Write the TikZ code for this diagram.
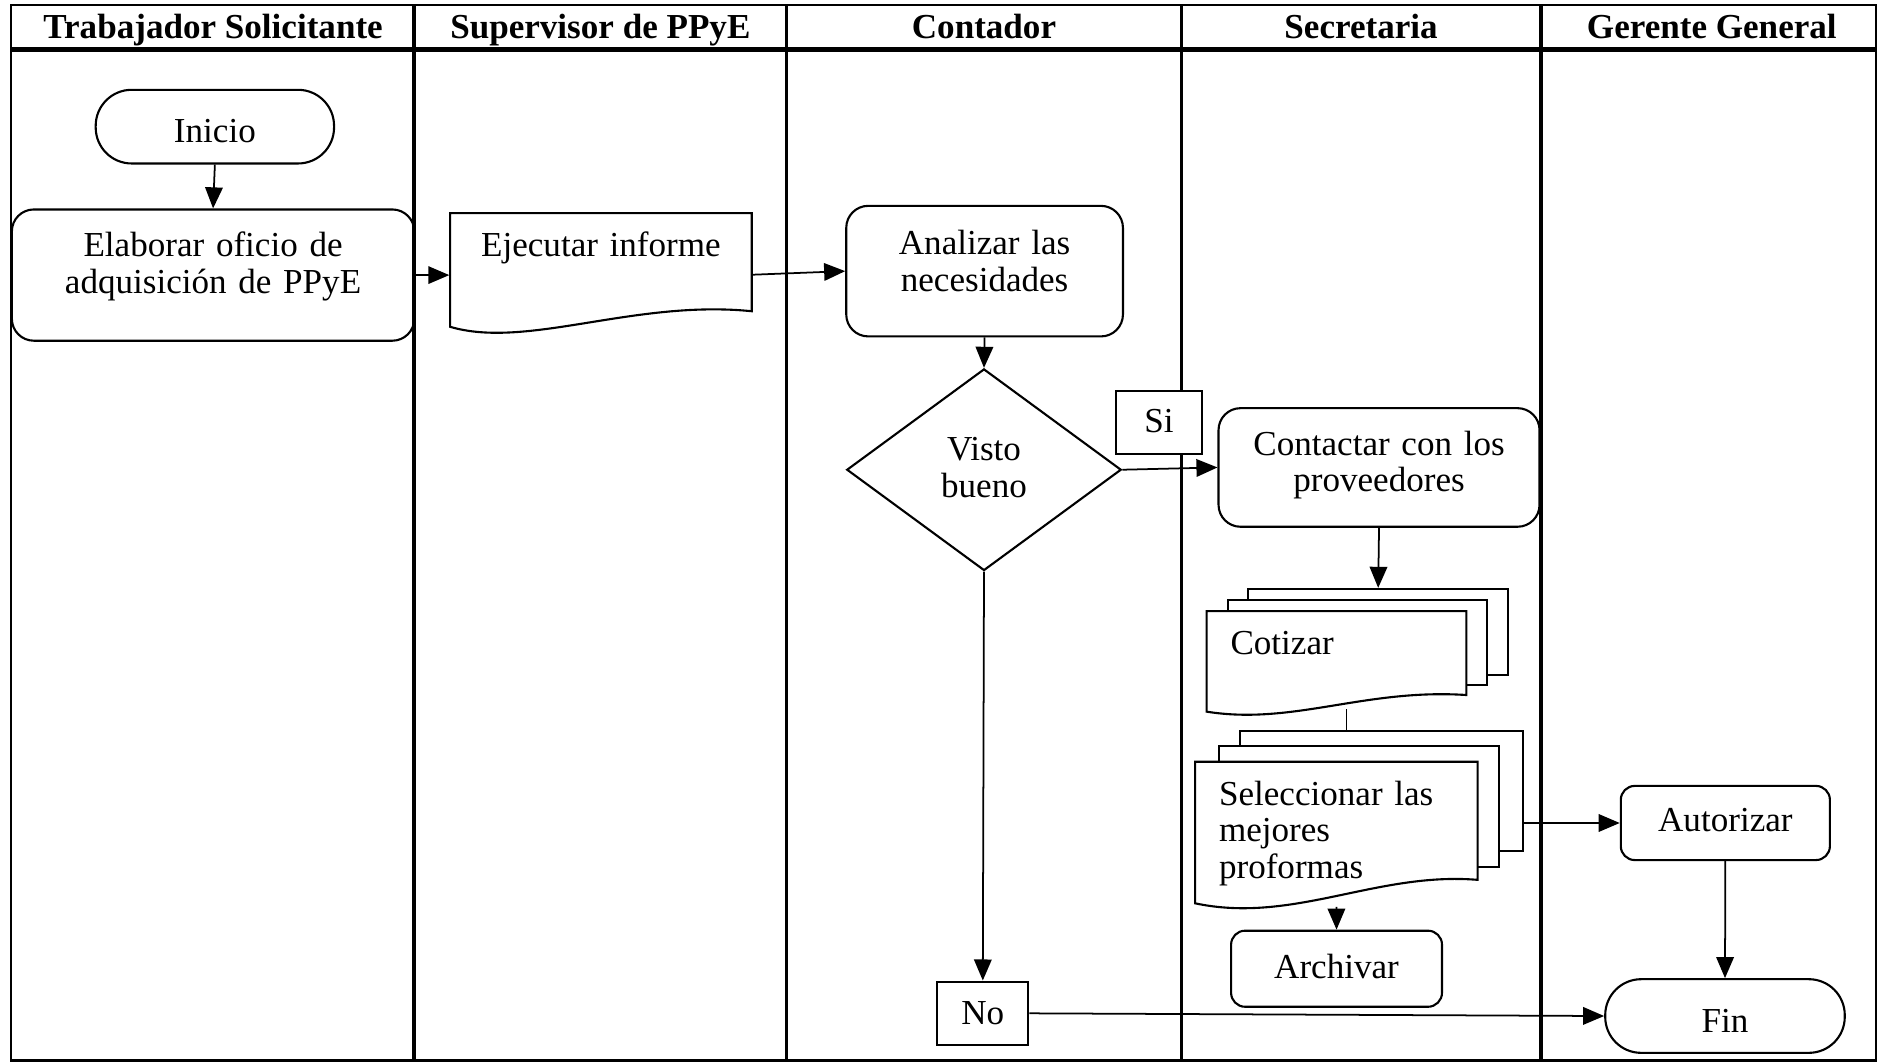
\documentclass[tikz,border=0pt]{standalone}
\usepackage{fontspec}
\setmainfont{Liberation Serif}
\usetikzlibrary{arrows.meta,shapes.geometric}

\begin{document}
\begin{tikzpicture}[x=0.012cm,y=-0.012cm,
        font=\fontsize{10}{10.4}\selectfont,
        lane/.style={line width=1.1pt},
        head/.style={font=\fontsize{10}{10.4}\selectfont\bfseries,anchor=base},
        box/.style={draw,line width=0.6pt,rounded corners=0.22cm,align=center,inner sep=0pt},
        smallbox/.style={box,rounded corners=0.14cm,text depth=1.5pt},
        term/.style={draw,line width=0.6pt,rounded corners=0.36cm,inner sep=0pt,text height=9.2pt,text depth=0pt},
        tag/.style={draw,line width=0.6pt,fill=white,inner sep=0pt},
        sheet/.style={draw,line width=0.6pt,fill=white,inner sep=0pt},
        doc/.style={line width=0.6pt,draw,fill=white},
        doctext/.style={inner xsep=0.24cm,inner ysep=0pt,align=left},
        flow/.style={line width=0.5pt,-{Triangle[length=6pt,width=5pt]}}]
    \useasboundingbox (0,0) rectangle (1568,887);
    % lanes
    \draw[line width=0.7pt] (9,4) rectangle (1567,886);
    \draw[line width=1.4pt] (9,41) -- (1567,41);
    \foreach \x in {346,657,987,1287}
        \draw[lane] (\x,4) -- (\x,886);
    \node[head] (trab) at (178,32) {Trabajador Solicitante};
    \node[head] (superv) at (501.5,32) {Supervisor de PPyE};
    \node[head] (contad) at (822,32) {Contador};
    \node[head] (secret) at (1137,32) {Secretaria};
    \node[head] (gerente) at (1430,32) {Gerente General};

    % Trabajador Solicitante
    \node[term,minimum width=2.388cm,minimum height=0.738cm] (inicio) at (179.5,105.8) {Inicio};
    \node[box,minimum width=4.032cm,minimum height=1.315cm,text width=3.9cm,text depth=17.6pt] (elab) at (178,229.8) {Elaborar oficio de\\adquisición de PPyE};

    % Supervisor de PPyE
    \draw[doc] (376,178) -- (628,178) -- (628,260) .. controls (530,250) and (440,292) .. (376,273) -- cycle;
    \node[align=center,text width=2.9cm,minimum width=3.024cm,minimum height=1.236cm,inner sep=0pt,text depth=17.2pt] (ejec) at (502,229.5) {Ejecutar informe};

    % Contador
    \node[box,minimum width=2.772cm,minimum height=1.308cm,text width=2.6cm,text depth=16.4pt] (anal) at (822.5,226.5) {Analizar las\\necesidades};
    \node[diamond,draw,line width=0.6pt,minimum width=2.75cm,minimum height=2.02cm,inner sep=0pt,align=center,text width=1.2cm,text depth=11.6pt] (visto) at (822,392.4) {Visto\\bueno};
    \node[tag,minimum width=0.866cm,minimum height=0.635cm,text depth=1.1pt] (si) at (968.2,353) {Si};
    \node[tag,minimum width=0.912cm,minimum height=0.636cm,text depth=0pt] (no) at (821,846.5) {No};

    % Secretaria
    \node[box,minimum width=3.216cm,minimum height=1.188cm,text width=3.1cm,text depth=13.9pt] (contac) at (1152,390.5) {Contactar con los\\proveedores};
    \node[sheet,minimum width=2.609cm,minimum height=0.864cm] (cot3) at (1151.3,528) {};
    \node[sheet,minimum width=2.592cm,minimum height=0.852cm] (cot2) at (1134,536.5) {};
    \draw[doc] (1008,510.5) -- (1225,510.5) -- (1225,580.6) .. controls (1140,575) and (1080,606) .. (1008,594.5) -- cycle;
    \node[doctext,text width=2.124cm,minimum height=0.978cm,text depth=9.6pt] (cot) at (1116.5,551.25) {Cotizar};
    \node[sheet,minimum width=2.837cm,minimum height=1.207cm] (sel3) at (1153.8,660.7) {};
    \node[sheet,minimum width=2.814cm,minimum height=1.207cm] (sel2) at (1135.25,673.7) {};
    \draw[doc] (998.4,636.3) -- (1234.4,636.3) -- (1234.4,735) .. controls (1150,728) and (1080,772) .. (998.4,754.6) -- cycle;
    \node[doctext,text width=2.352cm,minimum height=1.448cm,text depth=23.2pt] (sel) at (1116.4,696.65) {Seleccionar las\\mejores\\proformas};
    \node[smallbox,minimum width=2.113cm,minimum height=0.762cm] (archiv) at (1116.5,809.25) {Archivar};

    % Gerente General
    \node[smallbox,minimum width=2.095cm,minimum height=0.743cm] (autoriz) at (1441.3,687.5) {Autorizar};
    \node[term,minimum width=2.4cm,minimum height=0.738cm] (fin) at (1441,848.75) {Fin};

    % connectors
    \draw[flow] (inicio.south) -- (elab.north);
    \draw[flow] (elab.east) -- (elab.east -| ejec.west);
    \draw[flow] (ejec.east) -- (anal.west);
    \draw[flow] (anal.south) -- (visto.north);
    \draw[flow] (visto.east) -- (contac.west);
    \draw[flow] (visto.south) -- (no.north);
    \draw[flow] (no.east) -- (fin.west);
    \draw[flow] (contac.south) -- (cot3.north);
    \draw[line width=0.5pt] ([xshift=0.1cm]cot.south) -- ([xshift=0.1cm]cot.south |- sel3.north);
    \draw[flow] (autoriz.west -| sel3.east) -- (autoriz.west);
    \draw[flow] (sel.south) -- (archiv.north);
    \draw[flow] (autoriz.south) -- (fin.north);
\end{tikzpicture}
\end{document}
